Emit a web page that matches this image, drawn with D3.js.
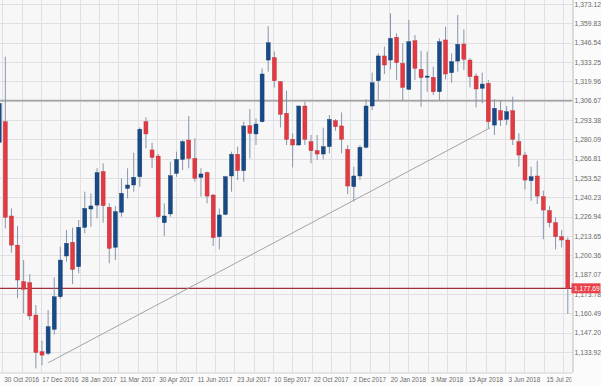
<!DOCTYPE html>
<html>
<head>
<meta charset="utf-8">
<script src="https://cdn.jsdelivr.net/npm/d3@7"></script>
<style>
  body { margin: 0; background: #fff; }
  text { font-family: "Liberation Sans", Arial, sans-serif; }
</style>
</head>
<body>
<svg id="chart" width="601" height="386"></svg>
<script>
// weekly candles, 30 Oct 2016 -> 12 Aug 2018
let opens = [1278, 1292.2, 1227.4, 1207.4, 1182.2, 1181.6, 1159.3, 1134.1, 1133.0, 1149.5,
  1171.9, 1199.9, 1209.3, 1192.6, 1219.6, 1232.2, 1234.9, 1257.9, 1233.4, 1205.9,
  1230.0, 1246.4, 1248.7, 1254.4, 1292.2, 1272.8, 1268.6, 1222.8, 1228.8, 1256.7,
  1266.3, 1279.6, 1267.0, 1253.9, 1257.2, 1241.8, 1213.2, 1228.5, 1254.9, 1269.8,
  1258.6, 1289.5, 1283.8, 1292.2, 1334.6, 1336.2, 1319.7, 1298.0, 1280.1, 1276.2,
  1303.0, 1278.5, 1272.3, 1270.0, 1275.1, 1292.9, 1289.3, 1273.2, 1247.6, 1254.9,
  1274.6, 1303.0, 1320.4, 1337.4, 1334.6, 1350.2, 1332.3, 1314.5, 1347.9, 1328.2,
  1323.0, 1322.7, 1312.8, 1348.4, 1325.9, 1333.9, 1345.6, 1334.6, 1323.6, 1315.2,
  1318.6, 1289.9, 1299.8, 1293.8, 1299.8, 1278.5, 1269.3, 1251.7, 1254.9, 1240.7,
  1231.1, 1222.8, 1213.2, 1210.9];
let highs = [1307, 1336.9, 1232.6, 1220.5, 1197.1, 1187.5, 1166.2, 1141.7, 1162.8, 1185.2,
  1206.3, 1217.8, 1219.4, 1224.6, 1244.1, 1243.0, 1260.2, 1263.6, 1236.1, 1234.3,
  1253.3, 1260.2, 1270.9, 1288.3, 1295.2, 1277.8, 1270.0, 1236.1, 1264.7, 1271.6,
  1279.6, 1296.1, 1280.8, 1260.2, 1258.0, 1242.5, 1232.6, 1255.0, 1271.6, 1275.1,
  1292.2, 1300.9, 1294.5, 1328.9, 1358.0, 1340.4, 1320.2, 1313.5, 1284.2, 1303.4,
  1306.0, 1283.1, 1283.1, 1288.1, 1296.8, 1294.0, 1298.6, 1276.2, 1261.3, 1276.2,
  1307.6, 1325.9, 1339.2, 1343.8, 1366.7, 1353.0, 1346.1, 1362.1, 1351.8, 1341.0,
  1340.4, 1330.0, 1349.5, 1357.5, 1339.2, 1365.6, 1355.7, 1335.8, 1325.5, 1325.9,
  1320.9, 1307.6, 1307.1, 1303.0, 1309.4, 1284.2, 1271.6, 1261.3, 1265.4, 1244.8,
  1234.3, 1226.5, 1217.8, 1212.7];
let lows = [1272, 1218.9, 1202.2, 1170.8, 1160.5, 1155.9, 1122.6, 1124.9, 1131.8, 1146.0,
  1170.5, 1196.0, 1180.6, 1188.0, 1215.5, 1220.0, 1225.8, 1222.8, 1194.9, 1197.1,
  1226.9, 1239.5, 1244.1, 1247.6, 1273.9, 1260.2, 1225.8, 1213.7, 1226.9, 1254.4,
  1259.0, 1260.2, 1251.0, 1240.7, 1236.1, 1206.8, 1204.5, 1228.0, 1244.1, 1252.1,
  1251.0, 1267.0, 1276.2, 1291.8, 1326.6, 1315.8, 1288.3, 1276.2, 1260.8, 1275.8,
  1276.2, 1263.6, 1265.9, 1266.3, 1270.5, 1286.0, 1270.5, 1242.5, 1237.4, 1252.1,
  1273.9, 1300.3, 1307.1, 1325.0, 1328.2, 1320.9, 1307.1, 1314.0, 1320.9, 1302.5,
  1312.8, 1310.6, 1307.1, 1321.3, 1319.0, 1326.6, 1327.7, 1315.8, 1302.1, 1304.8,
  1287.7, 1283.1, 1289.3, 1289.9, 1276.2, 1261.3, 1245.7, 1237.9, 1235.6, 1211.4,
  1219.6, 1204.5, 1205.9, 1160.0];
let closes = [1304.8, 1226.5, 1207.4, 1183.4, 1177.0, 1158.7, 1133.6, 1131.8, 1151.3, 1171.9,
  1197.1, 1208.6, 1190.7, 1219.6, 1232.6, 1234.3, 1257.2, 1234.5, 1205.2, 1230.4,
  1243.0, 1248.7, 1254.0, 1287.0, 1283.8, 1267.7, 1226.9, 1227.4, 1255.1, 1266.3,
  1278.5, 1267.0, 1253.3, 1256.3, 1241.1, 1212.5, 1228.1, 1254.4, 1269.8, 1258.6,
  1289.3, 1284.2, 1290.6, 1325.0, 1346.5, 1320.4, 1297.3, 1280.1, 1276.2, 1303.0,
  1280.1, 1272.3, 1270.0, 1275.1, 1293.8, 1288.8, 1280.1, 1248.0, 1254.9, 1274.6,
  1303.0, 1319.0, 1337.4, 1331.2, 1349.5, 1332.8, 1315.8, 1347.2, 1328.9, 1322.5,
  1323.6, 1312.8, 1347.2, 1325.0, 1333.5, 1345.4, 1335.1, 1323.2, 1314.7, 1318.1,
  1292.2, 1301.4, 1293.4, 1299.1, 1280.1, 1269.3, 1252.1, 1254.4, 1241.1, 1231.5,
  1222.8, 1213.2, 1210.9, 1177.69];

let priceTicks = [1133.92, 1147.20, 1160.49, 1173.78, 1187.07, 1200.36, 1213.65, 1226.94,
  1240.23, 1253.52, 1266.81, 1280.09, 1293.38, 1306.67, 1319.96, 1333.25, 1346.54,
  1359.83, 1373.12];
let dateLabels = ["30 Oct 2016", "17 Dec 2016", "28 Jan 2017", "11 Mar 2017", "30 Apr 2017",
  "11 Jun 2017", "23 Jul 2017", "10 Sep 2017", "22 Oct 2017", "2 Dec 2017", "20 Jan 2018",
  "3 Mar 2018", "15 Apr 2018", "3 Jun 2018", "15 Jul 2018"];

let lastPrice = 1177.69;
let supportLevel = 1306.67;
let trendIdx = [8, 80.3];
let trendPrice = [1126.5, 1288.0];

let svg = d3.select("#chart");
let plotW = 572.5, plotH = 372.5;
let upColor = "#174a86", downColor = "#e23a42", wickColor = "#8696ab";

let candles = opens.map((o, i) => ({ i: i, o: o, h: highs[i], l: lows[i], c: closes[i] }));

let x = d3.scaleLinear().domain([0, candles.length - 1]).range([-0.8, 567.8]);
let y = d3.scaleLinear().domain([priceTicks[0], priceTicks[priceTicks.length - 1]]).range([352, 4]);
// date labels sit on every other grid line, spaced evenly along the candle index
let labelPos = d3.scaleLinear().domain([0, dateLabels.length - 1]).range([3.68, 92.23]);

svg.append("rect").attr("width", 601).attr("height", 386).attr("fill", "#fbfbfb");
svg.append("rect").attr("width", plotW).attr("height", plotH).attr("fill", "#f7f7f8");

svg.append("clipPath").attr("id", "plotClip")
  .append("rect").attr("width", plotW).attr("height", plotH);
svg.append("clipPath").attr("id", "labelClip")
  .append("rect").attr("width", plotW - 1).attr("height", 386);

let plot = svg.append("g").attr("clip-path", "url(#plotClip)");

// grid
plot.append("g")
  .selectAll("line")
  .data(priceTicks)
  .join("line")
  .attr("x1", 0).attr("x2", plotW)
  .attr("y1", d => Math.round(y(d)) + 0.5).attr("y2", d => Math.round(y(d)) + 0.5)
  .attr("stroke", "#e0e0e3");

let gridSteps = d3.range(-0.5, dateLabels.length, 0.5);
plot.append("g")
  .selectAll("line")
  .data(gridSteps)
  .join("line")
  .attr("x1", d => Math.round(x(labelPos(d))) + 0.5).attr("x2", d => Math.round(x(labelPos(d))) + 0.5)
  .attr("y1", 0).attr("y2", plotH)
  .attr("stroke", "#e0e0e3");

// horizontal levels
plot.append("line")
  .attr("x1", 0).attr("x2", plotW)
  .attr("y1", y(supportLevel)).attr("y2", y(supportLevel))
  .attr("stroke", "#a5a5a5").attr("stroke-width", 1.8);

plot.append("line")
  .attr("x1", 0).attr("x2", plotW)
  .attr("y1", y(lastPrice)).attr("y2", y(lastPrice))
  .attr("stroke", "#9e2e38").attr("stroke-width", 1.2);

// trend line
plot.append("line")
  .attr("x1", x(trendIdx[0])).attr("y1", y(trendPrice[0]))
  .attr("x2", x(trendIdx[1])).attr("y2", y(trendPrice[1]))
  .attr("stroke", "#9a9a9a").attr("stroke-width", 0.9);

// candles
let bodyW = 4;
plot.append("g")
  .selectAll("line")
  .data(candles)
  .join("line")
  .attr("x1", d => x(d.i)).attr("x2", d => x(d.i))
  .attr("y1", d => y(d.h)).attr("y2", d => y(d.l))
  .attr("stroke", wickColor).attr("stroke-width", 1);

plot.append("g")
  .selectAll("rect")
  .data(candles)
  .join("rect")
  .attr("x", d => x(d.i) - bodyW / 2)
  .attr("width", bodyW)
  .attr("y", d => y(Math.max(d.o, d.c)))
  .attr("height", d => Math.max(1.2, Math.abs(y(d.o) - y(d.c))))
  .attr("fill", d => (d.c >= d.o ? upColor : downColor))
  .attr("stroke", d => (d.c >= d.o ? "#123a6a" : "#b82a32"))
  .attr("stroke-width", 0.4);

// frame
svg.append("line")
  .attr("x1", plotW + 0.5).attr("x2", plotW + 0.5).attr("y1", 0).attr("y2", plotH)
  .attr("stroke", "#bcbcbc");
svg.append("line")
  .attr("x1", 0).attr("x2", plotW).attr("y1", plotH + 0.5).attr("y2", plotH + 0.5)
  .attr("stroke", "#d0d0d0");

// price axis
let yAxis = d3.axisRight(y).tickValues(priceTicks).tickSize(0).tickPadding(2)
  .tickFormat(d3.format(",.2f"));
let yg = svg.append("g").attr("transform", `translate(${plotW},0)`).call(yAxis);
yg.select(".domain").remove();
yg.selectAll("text").attr("fill", "#6a6a6a").style("font-size", "6.8px");

// last price marker
let lp = svg.append("g").attr("transform", `translate(${plotW - 1},${y(lastPrice)})`);
lp.append("rect").attr("x", 0).attr("y", -5).attr("width", 29).attr("height", 10).attr("fill", "#e8424a");
lp.append("text").attr("x", 2.5).attr("dy", "0.35em").attr("fill", "#fff")
  .style("font-size", "6.6px").text(d3.format(",.2f")(lastPrice));

// date axis
let xg = svg.append("g").attr("clip-path", "url(#labelClip)");
xg.selectAll("text")
  .data(dateLabels)
  .join("text")
  .attr("x", (d, k) => x(labelPos(k)))
  .attr("y", 379.5)
  .attr("dy", "0.35em")
  .attr("text-anchor", "middle")
  .attr("fill", "#6a6a6a")
  .style("font-size", "6.4px")
  .text(d => d);
</script>
</body>
</html>
